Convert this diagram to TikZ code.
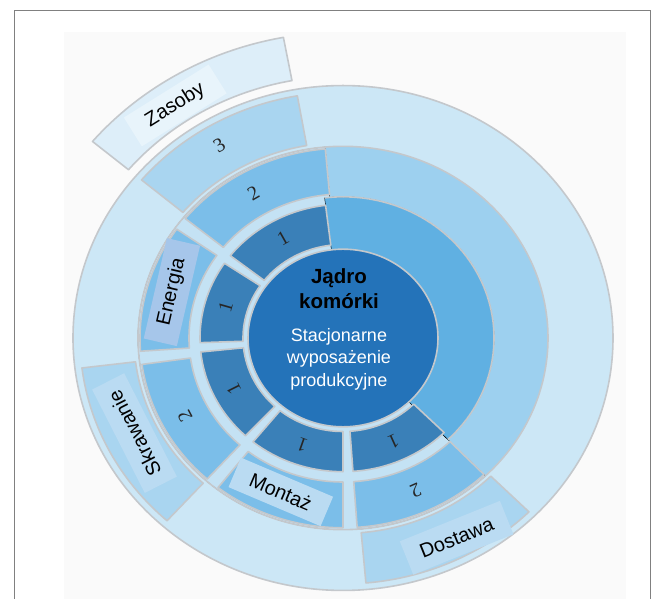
\documentclass[tikz,border=0pt]{standalone}
\usepackage{fontspec}
\setmainfont{Liberation Sans}
\newfontfamily\digitfont{Liberation Serif}
\usepackage{tikz}

\definecolor{coreblue}{HTML}{2473B9}
\definecolor{ringAdark}{HTML}{3A80B8}
\definecolor{ringAmid}{HTML}{60B0E2}
\definecolor{ringBseg}{HTML}{7BBEE9}
\definecolor{ringBlight}{HTML}{9DD0EF}
\definecolor{ringCseg}{HTML}{A9D5F0}
\definecolor{ringClight}{HTML}{CCE7F6}
\definecolor{gapblue}{HTML}{C4E2F4}
\definecolor{tabblue}{HTML}{DDEEF9}
\definecolor{tabinner}{HTML}{E8F4FB}
\definecolor{edgegray}{HTML}{C4C8CC}
\definecolor{energybox}{HTML}{A6C6EA}
\definecolor{labelbox}{HTML}{BADBF2}

% annular sector: start angle, end angle, inner radius, outer radius, style
\newcommand{\ringseg}[5]{%
  \draw[#5] (#1:#3) arc[start angle=#1, end angle=#2, radius=#3]
    -- (#2:#4) arc[start angle=#2, end angle=#1, radius=#4] -- cycle;
}

\begin{document}
\begin{tikzpicture}[x=1pt, y=0.935pt,
    seg/.style={draw=edgegray, line width=1.6pt, line join=round},
    digit/.style={font=\digitfont\fontsize{20}{20}\selectfont, text=black!85},
    tag/.style={font=\fontsize{20}{20}\selectfont, inner sep=0pt, align=center}]
    \useasboundingbox (-343pt,-261pt) rectangle (316pt,338pt);

    % Frame and backdrop
    \fill[black!2] (-279pt,-261pt) rectangle (283pt,306pt);
    \draw[black!50, line width=0.8pt] (-329pt,-261pt) -- (-329pt,328pt) -- (307pt,328pt) -- (307pt,-261pt);

    % Ring backgrounds
    \fill[ringClight] (0,0) circle[radius=270];
    \fill[ringBlight] (0,0) circle[radius=205];
    \ringseg{95}{314}{0}{205}{fill=gapblue}
    \ringseg{314}{457}{0}{151}{fill=ringAmid}
    \draw[seg] (0,0) circle[radius=270];
    \draw[seg] (0,0) circle[radius=205];
    \draw[seg] (314:151) arc[start angle=314, end angle=457, radius=151];

    % Core
    \draw[seg, fill=coreblue] (0,0) circle[radius=95];

    % Ring 1 segments
    \foreach \a/\b in {97/142, 146/182, 186/227, 231/270, 274/315} {
        \ringseg{\a}{\b}{100}{143}{seg, fill=ringAdark}
    }
    % Ring 2 segments
    \foreach \a/\b in {95/141, 145/184, 188/228, 232/270, 274/314} {
        \ringseg{\a}{\b}{154}{203}{seg, fill=ringBseg}
    }
    % Ring 3 segments
    \foreach \a/\b in {100/140, 187/228, 275/315} {
        \ringseg{\a}{\b}{209}{263}{seg, fill=ringCseg}
    }
    % Resource tab
    \ringseg{100.5}{140}{280}{327}{seg, fill=tabblue}

    % Core text
    \node[font=\bfseries\fontsize{20.5}{25}\selectfont, align=center] (coretitle) at (-4pt,49pt) {Jądro\\komórki};
    \node[font=\fontsize{18}{22.5}\selectfont, align=center, text=white] (coresub) at (-4pt,-21pt) {Stacjonarne\\wyposażenie\\produkcyjne};

    % Ring numbers
    \foreach \a [count=\i] in {119.5, 164, 206.5, 250.5, 294.5} {
        \node[digit, rotate=\a-90] (one-\i) at (\a:122) {1};
    }
    \foreach \a [count=\i] in {120, 208, 294} {
        \node[digit, rotate=\a-90] (two-\i) at (\a:179) {2};
    }
    \node[digit, rotate=31] (three) at (121:240) {3};

    % Labels
    \node[tag, fill=tabinner, minimum width=100pt, minimum height=34pt, rotate=32] (zasoby) at (124:300) {Zasoby};
    \node[tag, fill=energybox, minimum width=103pt, minimum height=34pt, rotate=77] (energia) at (164:178) {Energia};
    \node[tag, fill=labelbox, minimum width=116pt, minimum height=36pt, rotate=117] (skrawanie) at (206:232) {Skrawanie};
    \node[tag, fill=labelbox, minimum width=100pt, minimum height=32pt, rotate=-23] (montaz) at (249.3:176) {Montaż};
    \node[tag, fill=labelbox, minimum width=108pt, minimum height=36pt, rotate=22] (dostawa) at (298:242) {Dostawa};
\end{tikzpicture}
\end{document}
